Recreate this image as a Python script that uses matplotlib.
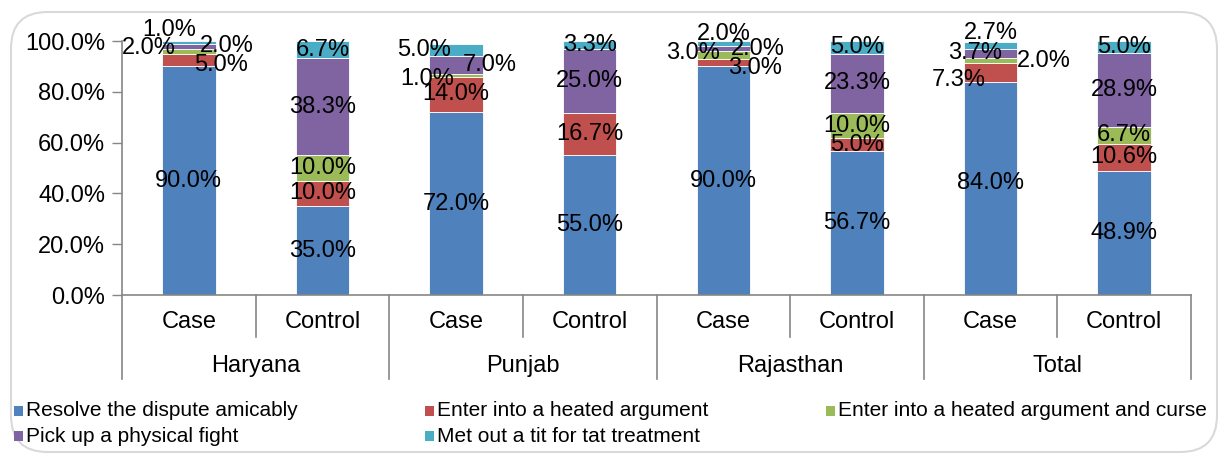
import matplotlib
matplotlib.use("Agg")
import matplotlib.pyplot as plt
from matplotlib.patches import FancyBboxPatch, Rectangle
from matplotlib.transforms import blended_transform_factory
import numpy as np

plt.rcParams['font.family'] = ['Liberation Sans', 'DejaVu Sans']

# ---------------- data ----------------
groups = ["Haryana", "Punjab", "Rajasthan", "Total"]
subcats = ["Case", "Control"]
series_names = ["Resolve the dispute amicably",
                "Enter into a heated argument",
                "Enter into a heated argument and curse",
                "Pick up a physical fight",
                "Met out a tit for tat treatment"]
# order of bars: Haryana Case, Haryana Control, Punjab Case, ..., Total Control
resolve = [90.0, 35.0, 72.0, 55.0, 90.0, 56.7, 84.0, 48.9]
heated = [5.0, 10.0, 14.0, 16.7, 3.0, 5.0, 7.3, 10.6]
curse = [2.0, 10.0, 1.0, 0.0, 3.0, 10.0, 2.0, 6.7]
fight = [2.0, 38.3, 7.0, 25.0, 2.0, 23.3, 3.7, 28.9]
titfortat = [1.0, 6.7, 5.0, 3.3, 2.0, 5.0, 2.7, 5.0]
yticks = [0, 20, 40, 60, 80, 100]

# ---------------- style ----------------
colors = ["#4F81BD", "#C0504D", "#9BBB59", "#8064A2", "#4BACC6"]
# manual label offsets (pixels, +y = up) for crowded small segments: (bar, series) -> (dx, dy)
label_offsets = {
    (0, 1): (32, -5), (0, 2): (-40, 3), (0, 3): (38, 0), (0, 4): (-20, 12),
    (2, 2): (-29, -4), (2, 3): (34, 0), (2, 4): (-32, 0),
    (4, 1): (32, -5), (4, 2): (-30, 2), (4, 3): (34, 0), (4, 4): (0, 10),
    (6, 0): (0, 5), (6, 1): (-32, -8), (6, 2): (53, 0), (6, 3): (-15, 0), (6, 4): (0, 12),
}
FS = 17

W, H = 1221, 458
fig = plt.figure(figsize=(W / 100, H / 100), dpi=100)

# rounded outer border
fig.add_artist(FancyBboxPatch((11 / W, 6 / H), 1206 / W, 440 / H,
                              boxstyle="round,pad=0,rounding_size=0.03",
                              transform=fig.transFigure, fill=False,
                              edgecolor="#D9D9D9", linewidth=1.5,
                              mutation_aspect=W / H))

ax_left, ax_right, ax_top, ax_bot = 122, 1191, 41, 295
ax = fig.add_axes([ax_left / W, 1 - ax_bot / H, (ax_right - ax_left) / W, (ax_bot - ax_top) / H])

data = [resolve, heated, curse, fight, titfortat]
n = len(resolve)
x = np.arange(n)
bottom = np.zeros(n)
for si, (vals, col, name) in enumerate(zip(data, colors, series_names)):
    vals = np.array(vals)
    ax.bar(x, vals, width=0.4, bottom=bottom, color=col, edgecolor="white",
           linewidth=0.6, label=name, zorder=2)
    for bi in range(n):
        v = vals[bi]
        if v <= 0:
            continue
        dx, dy = label_offsets.get((bi, si), (0, 0))
        ax.annotate(f"{v:.1f}%", (x[bi], bottom[bi] + v / 2),
                    xytext=(dx, dy), textcoords="offset pixels",
                    ha="center", va="center", fontsize=FS, color="black", zorder=5)
    bottom += vals

ax.set_xlim(-0.5, n - 0.5)
ax.set_ylim(0, 100)
ax.set_yticks(yticks)
ax.set_yticklabels([f"{t:.1f}%" for t in yticks], fontsize=FS)
ax.tick_params(axis="y", length=7, width=1, color="#868686", pad=5)
ax.tick_params(axis="x", length=0, labelbottom=False)
for s in ["top", "right"]:
    ax.spines[s].set_visible(False)
ax.spines["left"].set_color("#868686")
ax.spines["bottom"].set_color("#868686")
ax.spines["left"].set_linewidth(1.2)
ax.spines["bottom"].set_linewidth(1.2)

# multi-level category axis
trans = blended_transform_factory(ax.transData, ax.transAxes)
axh = ax_bot - ax_top
for gx in [-0.5, 1.5, 3.5, 5.5, 7.5]:
    ax.plot([gx, gx], [0, -(379 - 295) / axh], transform=trans, color="#868686",
            lw=1.2, clip_on=False)
for sx in [0.5, 2.5, 4.5, 6.5]:
    ax.plot([sx, sx], [0, -(337 - 295) / axh], transform=trans, color="#868686",
            lw=1.2, clip_on=False)
for bi in range(n):
    ax.text(x[bi], -(322 - 295) / axh, subcats[bi % 2], transform=trans,
            ha="center", va="center", fontsize=FS)
for gi, g in enumerate(groups):
    ax.text(2 * gi + 0.5, -(366 - 295) / axh, g, transform=trans,
            ha="center", va="center", fontsize=FS)

# legend (manual layout)
leg_pos = [(14, 411), (425, 411), (826, 411), (14, 436), (425, 436)]
for (lx, ly), col, name in zip(leg_pos, colors, series_names):
    fig.add_artist(Rectangle((lx / W, 1 - (ly + 5) / H), 9 / W, 10 / H,
                             transform=fig.transFigure, facecolor=col, edgecolor="none"))
    fig.text((lx + 12) / W, 1 - ly / H, name, ha="left", va="center", fontsize=15)

fig.savefig("out.png", dpi=100)
